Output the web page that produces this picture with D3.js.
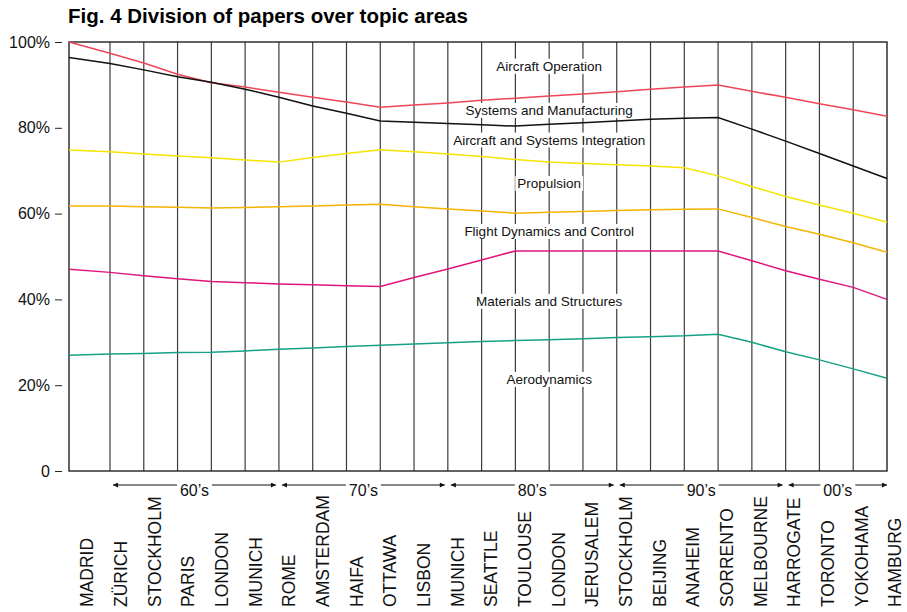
<!DOCTYPE html>
<html>
<head>
<meta charset="utf-8">
<script src="https://cdn.jsdelivr.net/npm/d3@7"></script>
<style>
  body { margin: 0; background: #fff; }
  text { font-family: "Liberation Sans", Arial, sans-serif; }
</style>
</head>
<body>
<svg id="chart" width="907" height="612"></svg>
<script>
// congress years and host cities
const years = [1958, 1960, 1962, 1964, 1966, 1968, 1970, 1972, 1974, 1976, 1978, 1980,
  1982, 1984, 1986, 1988, 1990, 1992, 1994, 1996, 1998, 2000, 2002, 2004, 2006];
const cities = ['MADRID', 'ZÜRICH', 'STOCKHOLM', 'PARIS', 'LONDON', 'MUNICH', 'ROME',
  'AMSTERDAM', 'HAIFA', 'OTTAWA', 'LISBON', 'MUNICH', 'SEATTLE', 'TOULOUSE', 'LONDON',
  'JERUSALEM', 'STOCKHOLM', 'BEIJING', 'ANAHEIM', 'SORRENTO', 'MELBOURNE', 'HARROGATE',
  'TORONTO', 'YOKOHAMA', 'HAMBURG'];

// cumulative share (%) – each line is the top of the band named below it
const topSystemsMfg = [100, 97.4, 95.1, 92.5, 90.5, 89.5, 88.3, 87.1, 86, 84.8, 85.3, 85.8,
  86.4, 86.9, 87.4, 87.9, 88.4, 89, 89.5, 90, 88.5, 87.1, 85.6, 84.2, 82.7];
const topIntegration = [96.4, 95, 93.5, 91.9, 90.6, 89, 87.1, 85.1, 83.4, 81.6, 81.3, 81,
  80.7, 80.4, 80.8, 81.2, 81.6, 82, 82.2, 82.4, 79.7, 76.9, 74, 71.1, 68.2];
const topPropulsion = [74.8, 74.4, 73.9, 73.4, 73, 72.5, 72, 73.1, 74, 74.9, 74.4, 73.9,
  73.3, 72.6, 72, 71.7, 71.4, 71.1, 70.7, 68.8, 66.3, 64, 62, 60.1, 58];
const topFlightDyn = [61.8, 61.8, 61.6, 61.5, 61.3, 61.4, 61.6, 61.8, 62, 62.2, 61.6, 61.1,
  60.6, 60.1, 60.3, 60.5, 60.7, 60.9, 61, 61.1, 59.1, 57, 55.2, 53.2, 51];
const topMaterials = [47, 46.3, 45.5, 44.8, 44.2, 43.9, 43.6, 43.4, 43.2, 43, 45.1, 47.1,
  49.2, 51.3, 51.3, 51.3, 51.3, 51.3, 51.3, 51.3, 49, 46.7, 44.7, 42.8, 40];
const topAero = [27, 27.3, 27.4, 27.6, 27.7, 28, 28.4, 28.7, 29, 29.3, 29.6, 29.9,
  30.2, 30.4, 30.6, 30.8, 31.1, 31.3, 31.5, 31.9, 30, 27.8, 25.9, 23.8, 21.6];

const seriesList = [topSystemsMfg, topIntegration, topPropulsion, topFlightDyn, topMaterials, topAero];
const seriesColors = ['#ef4657', '#111111', '#f4e400', '#f4b400', '#e0157c', '#17a085'];

// band names and the value where each name sits
const bandNames = ['Aircraft Operation', 'Systems and Manufacturing', 'Aircraft and Systems Integration',
  'Propulsion', 'Flight Dynamics and Control', 'Materials and Structures', 'Aerodynamics'];
const bandLabelValues = [94.4, 84.1, 77.2, 67.1, 55.9, 39.6, 21.4];
const bandLabelYear = 1986;

// decades along the bottom
const decadeNames = ["60’s", "70’s", "80’s", "90’s", "00’s"];
const decadeStart = [1960, 1970, 1980, 1990, 2000];
const decadeEnd = [1970, 1980, 1990, 2000, 2006];

const yTicks = [0, 20, 40, 60, 80, 100];

const svg = d3.select('#chart');

// first interval is drawn wider than the rest in the original
const x = d3.scaleLinear().domain([1958, 1960, 2006]).range([69, 110, 887]);
const labelX = d3.scaleLinear().domain([1958, 2006]).range([87, 895]);
const y = d3.scaleLinear().domain([0, 100]).range([471, 42]);

// title
svg.append('text')
  .attr('x', 68)
  .attr('y', 23)
  .style('font-size', '20.5px')
  .style('font-weight', 'bold')
  .text('Fig. 4 Division of papers over topic areas');

// vertical lines for each congress
svg.append('g')
  .selectAll('line')
  .data(years.slice(1, -1))
  .join('line')
  .attr('x1', (d) => x(d))
  .attr('x2', (d) => x(d))
  .attr('y1', y(100))
  .attr('y2', y(0))
  .attr('stroke', '#3c3c3c')
  .attr('stroke-width', 1.2);

// frame
svg.append('rect')
  .attr('x', x(1958))
  .attr('y', y(100))
  .attr('width', x(2006) - x(1958))
  .attr('height', y(0) - y(100))
  .attr('fill', 'none')
  .attr('stroke', '#222')
  .attr('stroke-width', 1.4);

// y axis ticks, detached from the frame
const yAxis = d3.axisLeft(y)
  .tickValues(yTicks)
  .tickSize(7)
  .tickPadding(5)
  .tickFormat((d) => (d === 0 ? '0' : d + '%'));

const yg = svg.append('g')
  .attr('transform', 'translate(62,0)')
  .call(yAxis);
yg.select('.domain').remove();
yg.selectAll('line').attr('stroke', '#222');
yg.selectAll('text')
  .style('font-size', '16px')
  .style('font-family', '"Liberation Sans", Arial, sans-serif')
  .attr('fill', '#111');

// the boundary lines
const line = d3.line()
  .x((d, i) => x(years[i]))
  .y((d) => y(d));

svg.append('g')
  .selectAll('path')
  .data(seriesList)
  .join('path')
  .attr('d', line)
  .attr('fill', 'none')
  .attr('stroke', (d, i) => seriesColors[i])
  .attr('stroke-width', 1.5);

// band names on a white patch
const bandG = svg.append('g');
bandNames.forEach((name, i) => {
  const g = bandG.append('g');
  const t = g.append('text')
    .attr('x', x(bandLabelYear))
    .attr('y', y(bandLabelValues[i]))
    .attr('dy', '0.35em')
    .attr('text-anchor', 'middle')
    .style('font-size', '13.5px')
    .attr('fill', '#111')
    .text(name);
  const b = t.node().getBBox();
  g.insert('rect', 'text')
    .attr('x', b.x - 2)
    .attr('y', b.y)
    .attr('width', b.width + 4)
    .attr('height', b.height)
    .attr('fill', '#fff');
});

// arrow heads for the decade spans
const defs = svg.append('defs');
['end', 'start'].forEach((id) => {
  defs.append('marker')
    .attr('id', 'arrow-' + id)
    .attr('viewBox', '0 0 10 10')
    .attr('refX', 10)
    .attr('refY', 5)
    .attr('markerWidth', 7)
    .attr('markerHeight', 5)
    .attr('markerUnits', 'userSpaceOnUse')
    .attr('orient', id === 'end' ? 'auto' : 'auto-start-reverse')
    .append('path')
    .attr('d', 'M0,0 L10,5 L0,10 Z')
    .attr('fill', '#111');
});

const arrowY = 485;
decadeNames.forEach((name, i) => {
  const x0 = x(decadeStart[i]) + 3;
  const x1 = decadeEnd[i] === 2006 ? x(decadeEnd[i]) : x(decadeEnd[i]) - 3;
  svg.append('line')
    .attr('x1', x0)
    .attr('x2', x1)
    .attr('y1', arrowY)
    .attr('y2', arrowY)
    .attr('stroke', '#111')
    .attr('stroke-width', 1)
    .attr('marker-start', 'url(#arrow-start)')
    .attr('marker-end', 'url(#arrow-end)');
  const g = svg.append('g');
  const t = g.append('text')
    .attr('x', (x0 + x1) / 2)
    .attr('y', arrowY + 11)
    .attr('text-anchor', 'middle')
    .style('font-size', '16px')
    .attr('fill', '#111')
    .text(name);
  const b = t.node().getBBox();
  g.insert('rect', 'text')
    .attr('x', b.x - 3)
    .attr('y', arrowY - 3)
    .attr('width', b.width + 6)
    .attr('height', 6)
    .attr('fill', '#fff');
});

// city names, rotated
svg.append('g')
  .selectAll('text')
  .data(cities)
  .join('text')
  .attr('transform', (d, i) => `translate(${labelX(years[i])},607) rotate(-90)`)
  .attr('dy', '0.36em')
  .style('font-size', '17.5px')
  .attr('fill', '#111')
  .text((d) => d);
</script>
</body>
</html>
